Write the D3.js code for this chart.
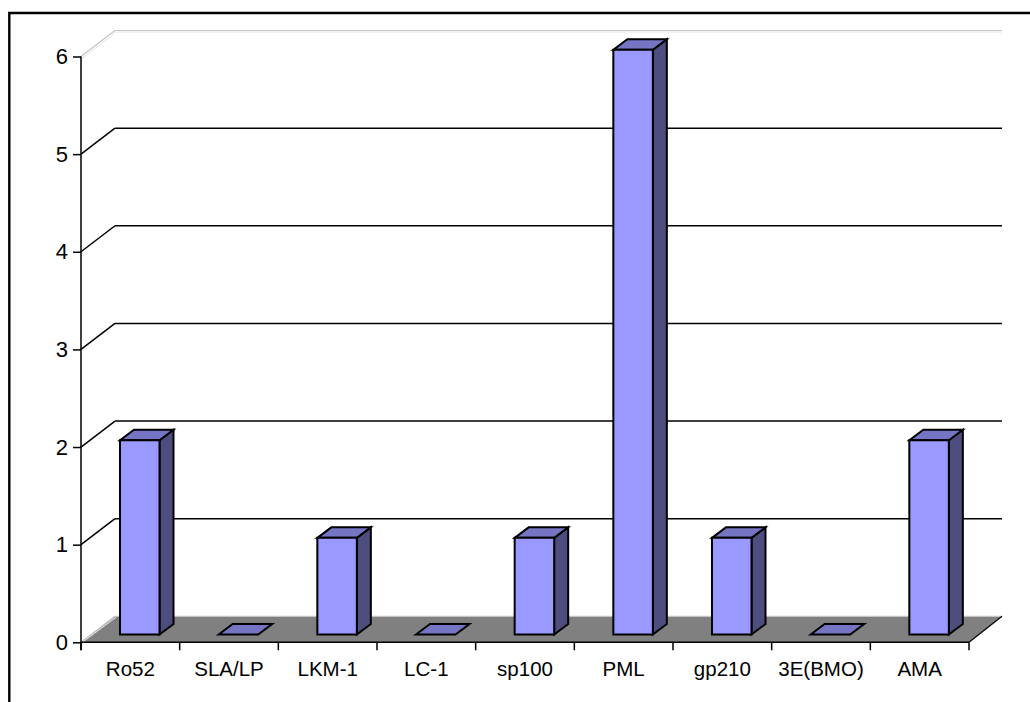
<!DOCTYPE html>
<html><head><meta charset="utf-8">
<script src="https://cdn.jsdelivr.net/npm/d3@7/dist/d3.min.js"></script>
<style>html,body{margin:0;padding:0;background:#fff;overflow:hidden}svg{display:block}text{font-family:"Liberation Sans",Arial,sans-serif;fill:#000}</style>
</head><body><div id="chart"></div>
<script>
const categories = ["Ro52","SLA/LP","LKM-1","LC-1","sp100","PML","gp210","3E(BMO)","AMA"];
const values = [2,0,1,0,1,6,1,0,2];
const yTicks = [0,1,2,3,4,5,6];

const W=1030,H=702;
const svg=d3.select("#chart").append("svg").attr("width",W).attr("height",H);
const x=d3.scaleBand().domain(categories).range([81,969]).paddingInner(0).paddingOuter(0);
const y=d3.scaleLinear().domain([0,6]).range([642.3,56.5]);
const wall={dx:34,dy:-26}, wallEnd=33, barOff=39, baseLift=7.8, topLift=6.8, barD={dx:14,dy:-10.5}, barW=39.5;
const col={front:"#9999ff",side:"#4d4d80",top:"#7575c4",floor:"#808080"};

// outer frame: only left and top edges fall inside the picture
svg.append("path").attr("d",`M9.3,${H}V13H${W}`).attr("fill","none").attr("stroke","#000").attr("stroke-width",2.4);

const poly=(pts,fill,stroke,sw)=>svg.append("polygon").attr("points",pts.map(p=>p.join(",")).join(" "))
  .attr("fill",fill).attr("stroke",stroke||"none").attr("stroke-width",sw||0).attr("stroke-linejoin","miter");
const line=(a,b,stroke,sw)=>svg.append("line").attr("x1",a[0]).attr("y1",a[1]).attr("x2",b[0]).attr("y2",b[1])
  .attr("stroke",stroke).attr("stroke-width",sw);
const wallLine=(yv,stroke,sw,off)=>{
  line([x0+off,yv+off],[x0+wall.dx+off,yv+wall.dy+off],stroke,sw);
  line([x0+wall.dx+off,yv+wall.dy+off],[x1+wallEnd,yv+wall.dy+off],stroke,sw);
};

const x0=x.range()[0], x1=x.range()[1], y0=y(0);
// floor
poly([[x0,y0],[x0+wall.dx,y0+wall.dy],[x1+wallEnd,y0+wall.dy],[x1,y0]],col.floor);
wallLine(y0,"#c4c4c4",1.2,0);
line([x0+2,y0-0.5],[x0+wall.dx+1,y0+wall.dy+1],"#e8e8e8",1);

// gridlines on walls
yTicks.slice(1,-1).forEach(t=>wallLine(y(t),"#000",1.5,0));
wallLine(y(6),"#c4c4c4",1.2,0);
wallLine(y(6),"#e6e6e6",1,1.5);

// bars
categories.forEach((c,i)=>{
  const l=x(c)+barOff, r=l+barW, b=y0-baseLift, t=y(values[i])-topLift;
  if(values[i]>0){
    poly([[r,b],[r+barD.dx,b+barD.dy],[r+barD.dx,t+barD.dy],[r,t]],col.side,"#000",2);
    poly([[l,t],[l+barD.dx,t+barD.dy],[r+barD.dx,t+barD.dy],[r,t]],col.top,"#000",2);
    poly([[l,b],[r,b],[r,t],[l,t]],col.front,"#000",2);
  } else {
    poly([[l,b],[l+barD.dx,b+barD.dy],[r+barD.dx,b+barD.dy],[r,b]],col.top,"#000",2);
  }
});

// axes
const yAxis=d3.axisLeft(y).tickValues(yTicks).tickSize(8).tickPadding(5).tickFormat(d3.format("d"));
const gy=svg.append("g").attr("transform","translate(81,0)").call(yAxis);
gy.select(".domain").attr("stroke","#000").attr("stroke-width",1.5).attr("d",`M0,${y(6)}V${y(0)+8}`);
gy.selectAll("line").attr("stroke","#000").attr("stroke-width",1.5);
gy.selectAll("text").style("font-size","22px").attr("font-family",null).attr("fill","#111");

const xAxis=d3.axisBottom(x).tickSize(0).tickPadding(19.5);
const gx=svg.append("g").attr("transform",`translate(0,${y0})`).call(xAxis);
gx.select(".domain").attr("stroke","#000").attr("stroke-width",1.5).attr("d",`M${x0},0H${x1}`);
gx.selectAll(".tick line").remove();
gx.selectAll("text").style("font-size","20.5px").attr("font-family",null).attr("fill","#111");
const edges=categories.map(c=>x(c)).concat([x1]);
gx.selectAll("line.edge").data(edges).enter().append("line").attr("class","edge")
  .attr("x1",d=>d).attr("x2",d=>d).attr("y1",0).attr("y2",8).attr("stroke","#000").attr("stroke-width",1.5);
// floor right edge
line([x1,y0],[x1+wallEnd,y0+wall.dy],"#000",1.2);
</script></body></html>
